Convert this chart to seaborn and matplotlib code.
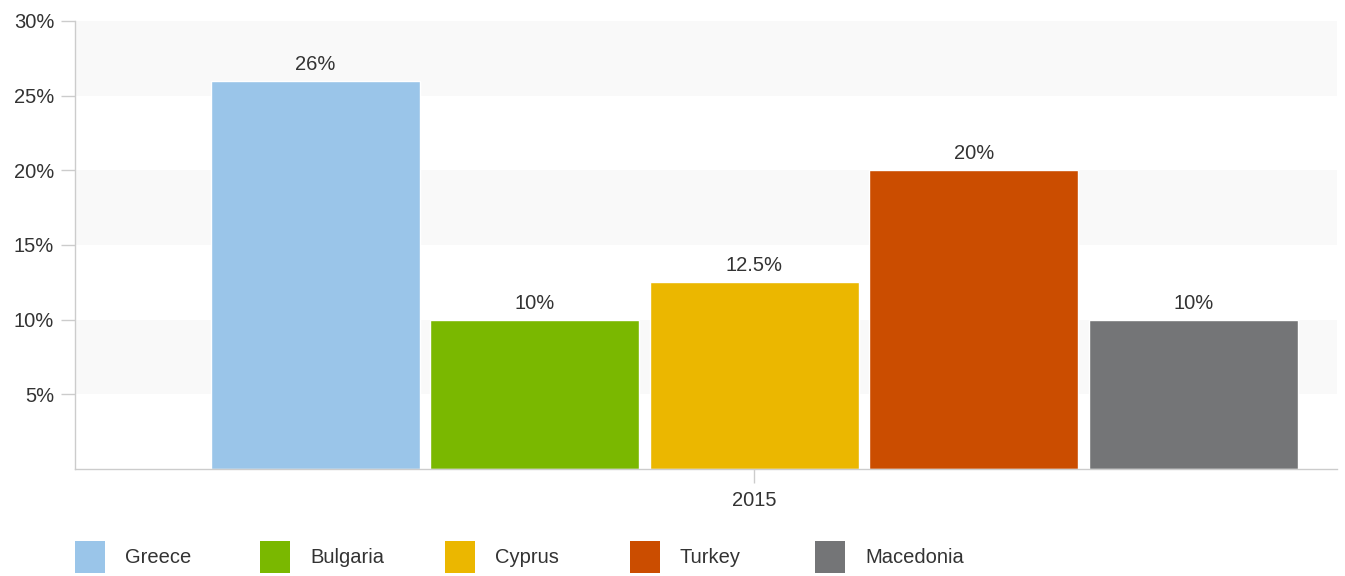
import matplotlib
matplotlib.use("Agg")
import matplotlib.pyplot as plt
from matplotlib.patches import Patch
import seaborn as sns
import pandas as pd

years = ["2015"]
countries = ["Greece", "Bulgaria", "Cyprus", "Turkey", "Macedonia"]
values = [26, 10, 12.5, 20, 10]
colors = ["#9ac5e9", "#7ab800", "#ebb700", "#cb4d00", "#747577"]
y_ticks = [5, 10, 15, 20, 25, 30]

df = pd.DataFrame({"year": years * len(countries), "country": countries, "value": values})
palette = dict(zip(countries, colors))

sns.set_theme(style="white")
plt.rcParams["font.family"] = ["Liberation Sans", "DejaVu Sans"]
TXT = "#333333"
GRID = "#cccccc"
FS = 14.5

fig = plt.figure(figsize=(13.45, 5.76), dpi=100)
ax = fig.add_axes([75 / 1345, 1 - 469 / 576, (1337 - 75) / 1345, (469 - 21) / 576])

# alternating background bands
for lo in (5, 15, 25):
    ax.axhspan(lo, lo + 5, color="#f9f9f9", zorder=0, lw=0)

sns.barplot(data=df, x="year", y="value", hue="country", hue_order=countries,
            palette=palette, width=1.0, gap=0.048, saturation=1, legend=False,
            ax=ax, zorder=2)

for cont, v in zip(ax.containers, values):
    ax.bar_label(cont, labels=[f"{v:g}%"], padding=5, fontsize=FS, color=TXT)

ax.set_ylim(0, 30)
ax.set_xlim(-0.619, 0.531)
ax.set_yticks(y_ticks)
ax.set_yticklabels([f"{t}%" for t in y_ticks])
ax.set_xlabel("")
ax.set_ylabel("")

for s in ("top", "right"):
    ax.spines[s].set_visible(False)
for s in ("left", "bottom"):
    ax.spines[s].set_color(GRID)
    ax.spines[s].set_linewidth(1)

ax.tick_params(axis="y", length=10, width=1, color=GRID, pad=5, labelsize=FS, labelcolor=TXT, left=True)
ax.tick_params(axis="x", length=10, width=1, color=GRID, pad=6, labelsize=FS, labelcolor=TXT, bottom=True)

# legend entries with fixed spacing
fs_px = FS * 100 / 72
for i, (c, col) in enumerate(zip(countries, colors)):
    fig.legend([Patch(facecolor=col, edgecolor="none")], [c],
               loc="center left", bbox_to_anchor=((75 + 185 * i) / 1345, 1 - 557 / 576),
               frameon=False, borderpad=0, borderaxespad=0,
               handlelength=30 / fs_px, handleheight=2.07, handletextpad=20 / fs_px,
               fontsize=FS, labelcolor=TXT)

fig.savefig("out.png", dpi=100)
